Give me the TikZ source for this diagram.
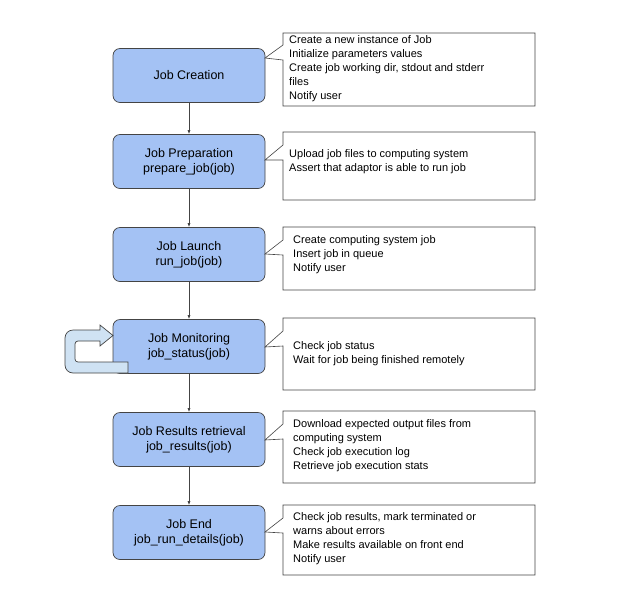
\documentclass[tikz,border=0pt]{standalone}
\usepackage{fontspec}
\setmainfont{Liberation Sans}
\usetikzlibrary{arrows.meta}
\definecolor{boxblue}{HTML}{A4C2F4}
\definecolor{loopblue}{HTML}{CFE2F3}
\definecolor{edge}{HTML}{444444}
\begin{document}
\begin{tikzpicture}[x=1pt,y=-1pt,
  stepbox/.style={draw=edge,fill=boxblue,rounded corners=7pt,minimum width=152pt,minimum height=54pt,align=center,font=\fontsize{12.5}{15}\selectfont,line width=0.7pt},
  note/.style={draw=edge,line width=0.6pt},
  ntext/.style={anchor=north west,align=left,font=\fontsize{11}{14}\selectfont,inner sep=0pt},
  flow/.style={draw=edge,line width=0.7pt,-{Latex[length=4pt,width=3pt]}}]
\useasboundingbox (0,0) rectangle (622,590);
\fill[white] (0,0) rectangle (622,590);
\node[stepbox] (s1) at (189,75.5) {Job Creation};
\node[stepbox] (s2) at (189,161.5) {Job Preparation\\prepare\_job(job)};
\node[stepbox] (s3) at (189,254.5) {Job Launch\\run\_job(job)};
\node[stepbox] (s4) at (189,346.5) {Job Monitoring\\job\_status(job)};
\node[stepbox] (s5) at (189,439.5) {Job Results retrieval\\job\_results(job)};
\node[stepbox] (s6) at (189,532.5) {Job End\\job\_run\_details(job)};
\foreach \a/\b in {s1/s2,s2/s3,s3/s4,s4/s5,s5/s6} \draw[flow] (\a) -- (\b);
% callouts
\newcommand\mycallout[5]{% top bottom wedge-top wedge-bottom tip-y
  \draw[note,fill=white] (283,#1) -- (535,#1) -- (535,#2) -- (283,#2) -- (283,#4) -- (265,#5) -- (283,#3) -- cycle;}
\mycallout{33}{106}{45}{60}{58}
\mycallout{132}{200}{145}{160}{160}
\mycallout{227}{290}{240}{255}{254}
\mycallout{318}{390}{331}{346}{347}
\mycallout{411}{483}{424}{439}{440}
\mycallout{505}{575}{518}{533}{532}
\node[ntext] (t1) at (289,35.5) {Create a new instance of Job\\Initialize parameters values\\Create job working dir, stdout and stderr\\files\\Notify user};
\node[ntext] (t2) at (289,149) {Upload job files to computing system\\Assert that adaptor is able to run job};
\node[ntext] (t3) at (293,235) {Create computing system job\\Insert job in queue\\Notify user};
\node[ntext] (t4) at (293,341) {Check job status\\Wait for job being finished remotely};
\node[ntext] (t5) at (293,419) {Download expected output files from\\computing system\\Check job execution log\\Retrieve job execution stats};
\node[ntext] (t6) at (293,512) {Check job results, mark terminated or\\warns about errors\\Make results available on front end\\Notify user};
% loop arrow
\draw[draw=edge,fill=loopblue,line width=0.7pt]
  (128,362) [rounded corners=3pt] -- (75,362) -- (75,341) [sharp corners] -- (100,341) -- (100,346) -- (113,335.5) -- (100,325) -- (100,330)
  [rounded corners=8pt] -- (65,330) -- (65,373) [sharp corners] -- (128,373) -- cycle;
\end{tikzpicture}
\end{document}
